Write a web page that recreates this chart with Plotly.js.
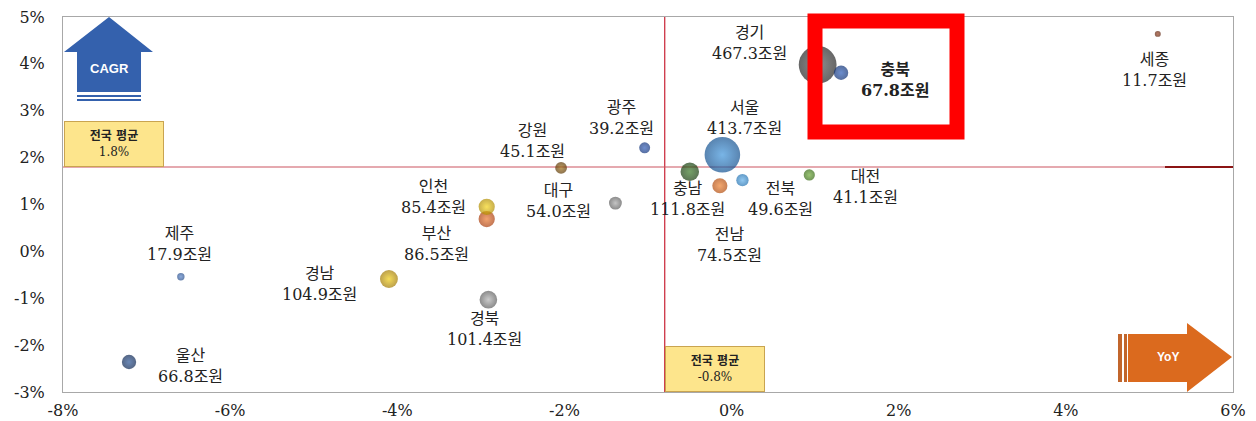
<!DOCTYPE html>
<html>
<head>
<meta charset="utf-8">
<script src="https://cdn.plot.ly/plotly-3.0.1.min.js"></script>
<style>html,body{margin:0;padding:0;background:#fff;}#chart{width:1256px;height:421px;}</style>
</head>
<body>
<div id="chart"></div>
<script>
// ---- data ----
const regions = ['경기','서울','충남','경남','경북','부산','인천','전남','충북','울산','대구','전북','강원','대전','광주','제주','세종'];
const yoy     = [1.03, -0.11, -0.50, -4.10, -2.91, -2.93, -2.93, -0.14, 1.31, -7.21, -1.39, 0.13, -2.04, 0.93, -1.04, -6.59, 5.10];
const cagr    = [3.98, 2.06, 1.70, -0.59, -1.03, 0.69, 0.95, 1.40, 3.81, -2.36, 1.03, 1.52, 1.78, 1.63, 2.21, -0.54, 4.64];
const amount  = [467.3, 413.7, 111.8, 104.9, 101.4, 86.5, 85.4, 74.5, 67.8, 66.8, 54.0, 49.6, 45.1, 41.1, 39.2, 17.9, 11.7];
const avgYoY = -0.8;
const avgCAGR = 1.8;
const xTicks = [-8,-6,-4,-2,0,2,4,6];
const yTicks = [-3,-2,-1,0,1,2,3,4,5];

// ---- styles ----
const baseColors = ['#262626','#12508f','#163a0d','#a07800','#5a5a5a','#a83c0c','#b08c00','#b04a0c','#0e2f72','#0c2550','#5a5a5a','#2070b0','#5a3604','#336810','#11337a','#244a88','#5a200a'];
const lightColors = ['#5e5e5e','#3f95dc','#3a7a26','#f0cc10','#b4b4b4','#ec7a30','#f5d418','#ee8230','#2c5cb8','#2a5496','#aaaaaa','#62b0ea','#a07016','#6eaa36','#2f5cb8','#5a86cc','#9a4020'];
const labelShift = [[-68,-22],[22,-37],[-2,27],[-69,5],[-4,29],[-50,25],[-53,-10],[10,59],[54,7],[61,4],[-57,-2],[38,19],[-29,-27],[56,12],[-23,-30],[-1,-33],[-3,36]];
const boldLabel = regions.map(r => r === '충북');

const serif = "'DejaVu Serif', 'Liberation Serif', 'Noto Sans CJK KR', serif";

const trace = {
  type: 'scatter', mode: 'markers',
  x: yoy, y: cagr,
  text: regions,
  marker: {
    size: amount.map(v => 1.75 * Math.sqrt(v)),
    sizemode: 'diameter',
    color: baseColors,
    gradient: {type: 'radial', color: lightColors},
    line: {width: 0}
  },
  hovertemplate: '%{text}: %{x}%, %{y}%<extra></extra>',
  showlegend: false
};

const annotations = regions.map((r, i) => ({
  x: yoy[i], y: cagr[i], xref: 'x', yref: 'y',
  text: boldLabel[i] ? '<b>' + r + '<br>' + amount[i].toFixed(1) + '조원</b>' : r + '<br>' + amount[i].toFixed(1) + '조원',
  showarrow: false,
  xshift: labelShift[i][0], yshift: -labelShift[i][1],
  xanchor: 'center', yanchor: 'middle',
  font: {family: serif, size: 16, color: '#222'}
}));

// average boxes
annotations.push({
  x: -8, y: avgCAGR, xref: 'x', yref: 'y', xanchor: 'left', yanchor: 'bottom',
  text: '<b>전국 평균</b><br>' + avgCAGR.toFixed(1) + '%', showarrow: false,
  width: 96, height: 42, bgcolor: '#fde58c', bordercolor: '#c9a450', borderwidth: 1, borderpad: 1,
  xshift: 1,
  font: {family: "'DejaVu Serif', 'Noto Sans CJK KR', serif", size: 12, color: '#222'}
});
annotations.push({
  x: avgYoY, y: -3, xref: 'x', yref: 'y', xanchor: 'left', yanchor: 'bottom',
  text: '<b>전국 평균</b><br>' + avgYoY.toFixed(1) + '%', showarrow: false,
  width: 96, height: 42, bgcolor: '#fde58c', bordercolor: '#c9a450', borderwidth: 1, borderpad: 1,
  font: {family: "'DejaVu Serif', 'Noto Sans CJK KR', serif", size: 12, color: '#222'}
});

// plot area in pixels
const L = 63, T = 17, W = 1170, H = 375;
const px = v => (v - L) / W;
const py = v => (T + H - v) / H;
function path(pts) {
  return 'M' + pts.map(p => px(p[0]).toFixed(5) + ',' + py(p[1]).toFixed(5)).join(' L') + ' Z';
}
function rect(x0, y0, x1, y1, fill, extra) {
  return Object.assign({type: 'rect', xref: 'paper', yref: 'paper', x0: px(x0), x1: px(x1), y0: py(y1), y1: py(y0),
    fillcolor: fill, line: {width: 0}, layer: 'above'}, extra || {});
}

annotations.push({xref: 'paper', yref: 'paper', x: px(109), y: py(68), xanchor: 'center', yanchor: 'middle',
  text: '<b>CAGR</b>', showarrow: false,
  font: {family: 'Liberation Sans, Arial, sans-serif', size: 13, color: '#ffffff'}});
annotations.push({xref: 'paper', yref: 'paper', x: px(1168), y: py(357), xanchor: 'center', yanchor: 'middle',
  text: '<b>YoY</b>', showarrow: false,
  font: {family: 'Liberation Sans, Arial, sans-serif', size: 12, color: '#ffffff'}});

const shapes = [
  // average lines
  {type: 'line', xref: 'x', yref: 'paper', x0: avgYoY, x1: avgYoY, y0: 0, y1: 1, line: {color: '#cc3344', width: 1.3}, layer: 'below'},
  {type: 'line', xref: 'paper', yref: 'y', x0: 0, x1: 1, y0: avgCAGR, y1: avgCAGR, line: {color: '#cc5560', width: 1.2}, layer: 'below'},
  {type: 'line', xref: 'paper', yref: 'y', x0: px(1165), x1: 1, y0: avgCAGR, y1: avgCAGR, line: {color: '#8b1414', width: 1.8}, layer: 'below'},
  // CAGR arrow
  {type: 'path', xref: 'paper', yref: 'paper', layer: 'above', line: {width: 0}, fillcolor: '#3461ad',
    path: path([[109, 17], [153, 52], [141, 52], [141, 92], [77, 92], [77, 52], [64, 52]])},
  rect(77, 95, 141, 97, '#3461ad'),
  rect(77, 99, 141, 101, '#3461ad'),
  // YoY arrow
  {type: 'path', xref: 'paper', yref: 'paper', layer: 'above', line: {width: 0}, fillcolor: '#db6a1e',
    path: path([[1128, 334], [1187, 334], [1187, 323], [1232, 357], [1187, 392], [1187, 382], [1128, 382]])},
  rect(1118, 334, 1122, 382, '#c2662c'),
  rect(1124, 334, 1127, 382, '#c2662c'),
  // highlight box
  {type: 'rect', xref: 'paper', yref: 'paper', x0: px(815), x1: px(957), y0: py(132), y1: py(21),
    line: {color: '#ff0000', width: 15}, fillcolor: 'rgba(0,0,0,0)', layer: 'above'}
];

const axisCommon = {
  showgrid: false, zeroline: false, showline: true, mirror: true,
  linecolor: '#a8a8a8', linewidth: 1, ticks: '',
  tickfont: {family: serif, size: 16, color: '#222'}
};

const layout = {
  width: 1256, height: 421,
  margin: {l: L, r: 1256 - L - W, t: T, b: 421 - T - H, pad: 0},
  paper_bgcolor: '#ffffff', plot_bgcolor: '#ffffff',
  xaxis: Object.assign({}, axisCommon, {range: [-8, 6], tickvals: xTicks, ticktext: xTicks.map(v => (v < 0 ? '-' : '') + Math.abs(v) + '%'), ticklabelstandoff: 4}),
  yaxis: Object.assign({}, axisCommon, {range: [-3, 5], tickvals: yTicks, ticktext: yTicks.map(v => (v < 0 ? '-' : '') + Math.abs(v) + '%'), ticklabelstandoff: 14}),
  shapes: shapes,
  annotations: annotations,
  showlegend: false
};

Plotly.newPlot('chart', [trace], layout, {displayModeBar: false, staticPlot: true});
</script>
</body>
</html>
